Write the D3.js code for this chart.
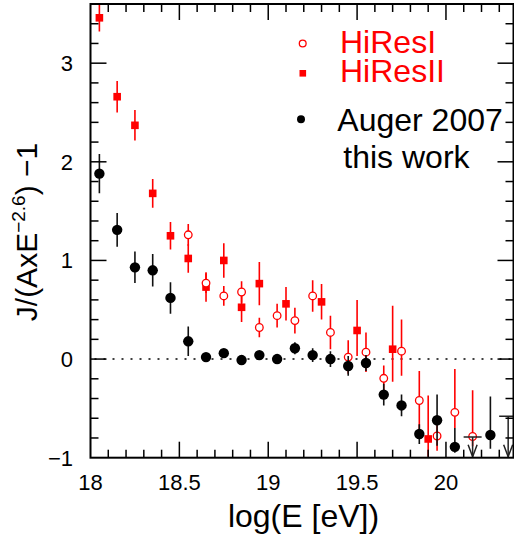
<!DOCTYPE html>
<html><head><meta charset="utf-8">
<script src="https://cdn.jsdelivr.net/npm/d3@7"></script>
<style>body{margin:0;background:#fff}svg{display:block;font-family:"Liberation Sans",Arial,Helvetica,sans-serif}</style>
</head><body><svg id="c" width="514" height="541"></svg>
<script>
// ---- data ----
const augerX  = [18.05,18.15,18.25,18.35,18.45,18.55,18.65,18.75,18.85,18.95,19.05,19.15,19.25,19.35,19.45,19.55,19.65,19.75,19.85,19.95,20.05,20.25];
const augerY  = [1.88,1.31,0.93,0.90,0.62,0.18,0.02,0.06,-0.01,0.04,0.00,0.11,0.04,0.00,-0.07,-0.04,-0.36,-0.47,-0.76,-0.62,-0.89,-0.77];
const augerHi = [0.20,0.17,0.16,0.165,0.16,0.15,0.03,0.03,0.03,0.03,0.03,0.06,0.07,0.08,0.10,0.08,0.11,0.11,0.10,0.26,0.19,0.39];
const augerLo = [0.20,0.17,0.16,0.165,0.16,0.15,0.03,0.03,0.03,0.03,0.03,0.06,0.07,0.08,0.10,0.08,0.11,0.11,0.10,0.26,0.06,0.14];
const augerLimX = [20.15,20.35];
const augerLimY = [-0.79,-0.58];

const hires1X  = [18.55,18.65,18.75,18.85,18.95,19.05,19.15,19.25,19.35,19.45,19.55,19.65,19.75,19.85,19.95,20.05,20.15];
const hires1Y  = [1.26,0.77,0.64,0.68,0.32,0.44,0.39,0.64,0.27,0.02,0.07,-0.195,0.08,-0.42,-0.78,-0.54,-0.785];
const hires1Hi = [0.11,0.10,0.10,0.11,0.10,0.12,0.13,0.16,0.17,0.17,0.20,0.13,0.32,0.30,0.15,0.44,0.47];
const hires1Lo = [0.11,0.10,0.10,0.11,0.10,0.12,0.13,0.16,0.17,0.17,0.20,0.13,0.25,0.30,0.15,0.16,0.10];

const hires2X  = [18.05,18.15,18.25,18.35,18.45,18.55,18.65,18.75,18.85,18.95,19.1,19.3,19.5,19.7,19.9];
const hires2Y  = [3.46,2.66,2.37,1.68,1.25,1.02,0.73,1.00,0.525,0.765,0.56,0.58,0.29,0.10,-0.81];
const hires2Hi = [0.14,0.16,0.155,0.145,0.14,0.145,0.15,0.175,0.15,0.22,0.17,0.18,0.31,0.44,0.44];
const hires2Lo = [0.14,0.16,0.155,0.145,0.14,0.145,0.15,0.175,0.15,0.22,0.17,0.18,0.26,0.33,0.18];

const xTickValues = [18,18.5,19,19.5,20];
const xTickLabels = ["18","18.5","19","19.5","20"];
const yTickValues = [-1,0,1,2,3];
const yTickLabels = ["\u22121","0","1","2","3"];
const legendLabels = ["HiResI","HiResII","Auger 2007","this work"];

// ---- layout ----
const L=90.5, R=513.5, T=4, B=457.7;
const x = d3.scaleLinear().domain([18,20.38]).range([L,R]);
const y = d3.scaleLinear().domain([-1,3.6]).range([B,T]);
const svg = d3.select("#c");
const RED="#ff0000", BLK="#000";

svg.append("clipPath").attr("id","clip").append("rect").attr("x",L).attr("y",T).attr("width",R-L).attr("height",B-T);
const plot = svg.append("g").attr("clip-path","url(#clip)");

// zero line
plot.append("line").attr("x1",L).attr("x2",R).attr("y1",y(0)).attr("y2",y(0))
  .attr("stroke","#000").attr("stroke-width",1.4).attr("stroke-dasharray","2,7").attr("stroke-dashoffset",-4);

function errs(g, X, Y, Hi, Lo, color){
  g.selectAll(null).data(X).enter().append("line")
    .attr("x1",d=>x(d)).attr("x2",d=>x(d))
    .attr("y1",(d,i)=>y(Y[i]+Hi[i])).attr("y2",(d,i)=>y(Y[i]-Lo[i]))
    .attr("stroke",color).attr("stroke-width",1.6);
}
// HiResII
errs(plot,hires2X,hires2Y,hires2Hi,hires2Lo,RED);
plot.selectAll(null).data(hires2X).enter().append("rect")
  .attr("x",d=>x(d)-3.8).attr("y",(d,i)=>y(hires2Y[i])-3.8).attr("width",7.6).attr("height",7.6).attr("fill",RED);
// HiResI
errs(plot,hires1X,hires1Y,hires1Hi,hires1Lo,RED);
plot.selectAll(null).data(hires1X).enter().append("circle")
  .attr("cx",d=>x(d)).attr("cy",(d,i)=>y(hires1Y[i])).attr("r",3.8)
  .attr("fill","#fff").attr("stroke",RED).attr("stroke-width",1.3);
// Auger
errs(plot,augerX,augerY,augerHi,augerLo,"#111");
plot.selectAll(null).data(augerX).enter().append("circle")
  .attr("cx",d=>x(d)).attr("cy",(d,i)=>y(augerY[i])).attr("r",5.2).attr("fill",BLK);
// upper limits
augerLimX.forEach((d,i)=>{
  const cx=x(d), cy=y(augerLimY[i]), yb=B-1;
  const g=plot.append("g").attr("stroke","#222").attr("stroke-width",1.5).attr("fill","none");
  g.append("line").attr("x1",cx-9).attr("x2",cx+9).attr("y1",cy).attr("y2",cy);
  g.append("line").attr("x1",cx).attr("x2",cx).attr("y1",cy).attr("y2",yb);
  g.append("path").attr("d",`M${cx-4.5},${yb-12}L${cx},${yb}L${cx+4.5},${yb-12}`);
});

// frame & ticks
const ax = svg.append("g").attr("stroke","#000").attr("stroke-width",1.5);
ax.append("rect").attr("x",L).attr("y",T).attr("width",R-L).attr("height",B-T).attr("fill","none").attr("stroke-width",2);
const xMinor = d3.range(181,204).map(v=>v/10);
xMinor.forEach(v=>{
  const major = Math.abs(v*2-Math.round(v*2))<1e-6;
  const len = major?16:8;
  ax.append("line").attr("x1",x(v)).attr("x2",x(v)).attr("y1",B).attr("y2",B-len);
  ax.append("line").attr("x1",x(v)).attr("x2",x(v)).attr("y1",T).attr("y2",T+len);
});
const yMinor = d3.range(-4,18).map(v=>v/5);
yMinor.forEach(v=>{
  const major = Math.abs(v-Math.round(v))<1e-6;
  const len = major?16:8;
  ax.append("line").attr("x1",L).attr("x2",L+len).attr("y1",y(v)).attr("y2",y(v));
  ax.append("line").attr("x1",R).attr("x2",R-len).attr("y1",y(v)).attr("y2",y(v));
});

// tick labels
svg.selectAll(null).data(xTickValues).enter().append("text")
  .attr("x",d=>x(d)).attr("y",490).attr("text-anchor","middle").attr("font-size",22).text((d,i)=>xTickLabels[i]);
svg.selectAll(null).data(yTickValues).enter().append("text")
  .attr("x",73).attr("y",d=>y(d)+8).attr("text-anchor","end").attr("font-size",22).text((d,i)=>yTickLabels[i]);

// axis titles
svg.append("text").attr("x",303.5).attr("y",527).attr("text-anchor","middle").attr("font-size",32).text("log(E [eV])");
const yt = svg.append("text").attr("transform","translate(37,232) rotate(-90)").attr("text-anchor","middle").attr("font-size",30);
yt.append("tspan").text("J/(AxE");
yt.append("tspan").attr("font-size",19).attr("dy",-12).text("\u22122.6");
yt.append("tspan").attr("dy",12).text(") \u22121");

// legend
svg.append("circle").attr("cx",302.7).attr("cy",43.5).attr("r",3.4).attr("fill","#fff").attr("stroke",RED).attr("stroke-width",1.3);
svg.append("rect").attr("x",299.5).attr("y",70).attr("width",6.6).attr("height",6.6).attr("fill",RED);
svg.append("circle").attr("cx",301).attr("cy",119.3).attr("r",4).attr("fill",BLK);
const lg=[[340,53.3,RED],[340,82,RED],[337.3,130.7,"#000"],[343.3,168.3,"#000"]];
lg.forEach((p,i)=>svg.append("text").attr("x",p[0]).attr("y",p[1]).attr("fill",p[2]).attr("font-size",32).text(legendLabels[i]));
</script></body></html>
